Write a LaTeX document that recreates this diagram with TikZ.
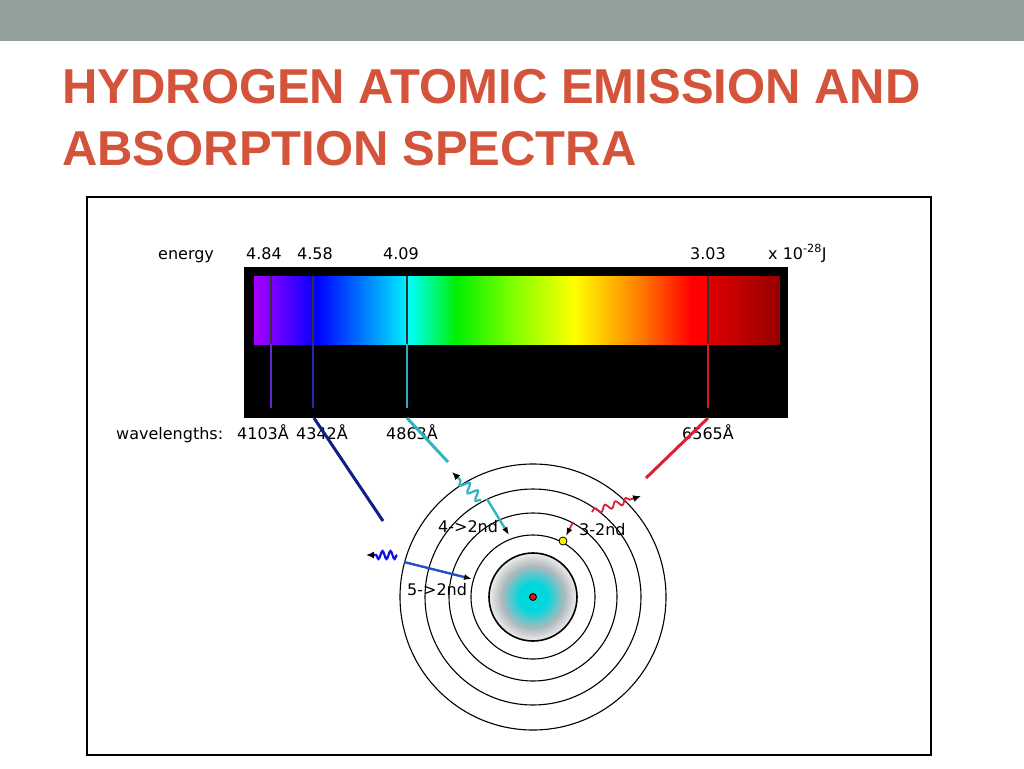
\documentclass[tikz,border=0pt]{standalone}
\usepackage{fontspec}
\setmainfont{DejaVu Sans}
\newfontfamily\titlefont{Liberation Sans}
\usepackage{tikz}
\usetikzlibrary{arrows.meta,decorations.pathmorphing,calc}
\definecolor{slidebar}{RGB}{147,160,154}
\definecolor{titlered}{RGB}{212,83,59}
\definecolor{specA}{RGB}{165,0,255}
\definecolor{specB}{RGB}{125,0,255}
\definecolor{specC}{RGB}{0,0,255}
\definecolor{specD}{RGB}{0,235,255}
\definecolor{specE}{RGB}{0,255,255}
\definecolor{specF}{RGB}{0,240,0}
\definecolor{specG}{RGB}{128,255,0}
\definecolor{specH}{RGB}{255,255,0}
\definecolor{specI}{RGB}{255,128,0}
\definecolor{specJ}{RGB}{255,0,0}
\definecolor{specK}{RGB}{225,0,0}
\definecolor{specL}{RGB}{150,0,0}
\definecolor{lineviolet}{RGB}{100,40,200}
\definecolor{lineblue}{RGB}{40,40,170}
\definecolor{lineteal}{RGB}{50,170,185}
\definecolor{linered}{RGB}{225,20,30}
\definecolor{navyray}{RGB}{16,30,140}
\definecolor{tealray}{RGB}{48,180,195}
\definecolor{redray}{RGB}{220,30,55}
\definecolor{bluejump}{RGB}{35,80,200}
\definecolor{bluewave}{RGB}{15,15,225}
\definecolor{corecyan}{RGB}{0,215,220}
\definecolor{coregrey}{RGB}{175,185,188}
\definecolor{coreedge}{RGB}{238,238,238}
\pgfdeclareradialshading{coreglow}{\pgfpoint{0bp}{0bp}}{color(0bp)=(corecyan); color(8bp)=(corecyan); color(18bp)=(coregrey); color(25bp)=(coreedge); color(50bp)=(coreedge)}
\tikzset{
  label/.style={anchor=base west, inner sep=0pt, font=\fontsize{16}{19}\selectfont},
  numlabel/.style={anchor=base, inner sep=0pt, font=\fontsize{16}{19}\selectfont},
  ray/.style={line width=3pt},
  orbit/.style={line width=1.1pt},
  jump/.style={line width=2.4pt, -{Latex[color=black,length=8pt,width=6pt]}},
  photon/.style={line width=2.2pt, -{Latex[color=black,length=8pt,width=7pt]}, decorate}
}
\begin{document}
\begin{tikzpicture}[x=1pt,y=-1pt]
\useasboundingbox (0,0) rectangle (1024,768);
\fill[slidebar] (0,0) rectangle (1024,41);
\node[anchor=base west, inner sep=0pt, text=titlered, font=\titlefont\bfseries\fontsize{49}{58}\selectfont] (title1) at (62,103) {HYDROGEN ATOMIC EMISSION AND};
\node[anchor=base west, inner sep=0pt, text=titlered, font=\titlefont\bfseries\fontsize{49}{58}\selectfont] (title2) at (62,165) {ABSORPTION SPECTRA};
\draw[line width=1.3pt] (87,197) rectangle (931,755);

\fill[black] (244,267) rectangle (788,418);
\foreach \xa/\ca/\xb/\cb in {254/specA/271/specB, 271/specB/317/specC, 317/specC/405/specD, 405/specD/408/specE, 408/specE/456/specF, 456/specF/513/specG, 513/specG/574/specH, 574/specH/638/specI, 638/specI/691/specJ, 691/specJ/708/specJ, 708/specK/779/specL}
  \shade[left color=\ca, right color=\cb] (\xa,276) rectangle (\xb+0.6,344);
\foreach \xl/\cl in {271/lineviolet, 313/lineblue, 407/lineteal, 708/linered}{
  \draw[line width=1.2pt, black!80] (\xl,276) -- (\xl,344);
  \draw[line width=1.5pt, \cl] (\xl,344) -- (\xl,408);
}

\node[label] (energy) at (158,259) {energy};
\node[numlabel] (e6) at (264,259) {4.84};
\node[numlabel] (e5) at (315,259) {4.58};
\node[numlabel] (e4) at (401,259) {4.09};
\node[numlabel] (e3) at (708,259) {3.03};
\node[label] (eunit) at (768,259) {x 10\textsuperscript{-28}J};
\node[label] (wave) at (116,439) {wavelengths:};
\node[label] (w6) at (237,439) {4103Å};
\node[label] (w5) at (296,439) {4342Å};
\node[label] (w4) at (386,439) {4863Å};
\node[label] (w3) at (682,439) {6565Å};

\coordinate (nuc) at (533,597);
\coordinate (h5) at (314,418);
\coordinate (h4) at (407,418);
\coordinate (h3) at (708,418);
\coordinate (h5end) at (383,521);
\coordinate (h4end) at (448,462);
\coordinate (h3end) at (646,478);
\draw[ray, navyray] (h5) -- (h5end);
\draw[ray, tealray] (h4) -- (h4end);
\draw[ray, redray] (h3) -- (h3end);

\shade[shading=coreglow] (nuc) circle[radius=44pt];
\draw[line width=1.6pt] (nuc) circle[radius=44pt];
\foreach \r in {62,84,108,133}
  \draw[orbit] (nuc) circle[radius=\r pt];

\coordinate (n4) at (487,499);
\coordinate (n4to2) at (509,535);
\coordinate (n5) at (404,562);
\coordinate (n5to2) at (472,579);
\coordinate (n3) at (573,522);
\coordinate (n3to2) at (566,536);
\coordinate (elec) at (563,541);
\draw[jump, tealray] (n4) -- (n4to2);
\draw[jump, bluejump] (n5) -- (n5to2);
\draw[jump, line width=1.8pt, redray] (n3) -- (n3to2);

\coordinate (p4a) at (481,500);
\coordinate (p4b) at (452,472);
\coordinate (p5a) at (397,555);
\coordinate (p5b) at (366,555);
\coordinate (p3a) at (592,512);
\coordinate (p3b) at (641,496);
\draw[photon, tealray, decoration={snake, amplitude=4.5pt, segment length=11pt, post length=7pt}] (p4a) -- (p4b);
\draw[photon, bluewave, decoration={snake, amplitude=4pt, segment length=8pt, post length=7pt}] (p5a) -- (p5b);
\draw[photon, line width=1.8pt, redray, decoration={snake, amplitude=3pt, segment length=11pt, post length=7pt}] (p3a) -- (p3b);

\draw[line width=0.8pt, fill=yellow] (elec) circle[radius=4pt];
\draw[line width=0.8pt, fill=red] (nuc) circle[radius=3.5pt];

\node[label] (l4) at (438,532) {4->2nd};
\node[label] (l3) at (579,535) {3-2nd};
\node[label] (l5) at (407,595) {5->2nd};
\end{tikzpicture}
\end{document}
